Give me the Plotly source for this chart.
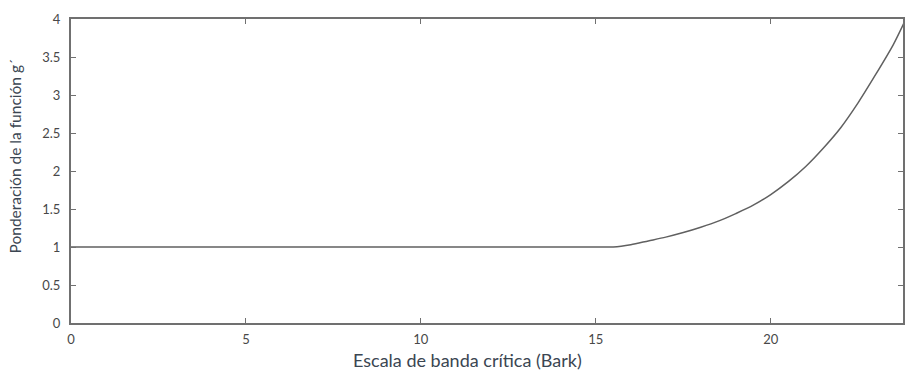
import plotly.graph_objects as go

# Critical-band rate (Bark) and weighting g'
bark = [0, 5, 10, 15, 15.5, 16, 16.5, 17, 17.5, 18, 18.5, 19, 19.5, 20,
        20.5, 21, 21.5, 22, 22.5, 23, 23.5, 23.8]
weight = [1.0, 1.0, 1.0, 1.0, 1.0, 1.03, 1.08, 1.13, 1.19, 1.26, 1.34, 1.44,
          1.55, 1.69, 1.86, 2.06, 2.30, 2.57, 2.90, 3.27, 3.66, 3.94]

x_ticks = [0, 5, 10, 15, 20]
y_ticks = [0, 0.5, 1, 1.5, 2, 2.5, 3, 3.5, 4]
y_tick_text = ["0", "0.5", "1", "1.5", "2", "2.5", "3", "3.5", "4"]

x_title = "Escala de banda crítica (Bark)"
y_title = "Ponderación de la función g´"

axis_color = "#707070"
font_family = "Lato, Open Sans, sans-serif"

fig = go.Figure()
fig.add_trace(go.Scatter(
    x=bark, y=weight, mode="lines",
    line=dict(color="#606060", width=1.5, shape="spline", smoothing=0.8),
    hoverinfo="skip", showlegend=False,
))

common = dict(
    showgrid=False, zeroline=False, showline=True, linecolor=axis_color,
    linewidth=2, mirror="allticks", ticks="inside", ticklen=5,
    tickcolor=axis_color, tickwidth=1,
    tickfont=dict(family=font_family, size=13, color="#484848"),
)

fig.update_layout(
    width=906, height=374,
    margin=dict(l=71, r=1, t=19, b=51),
    paper_bgcolor="white", plot_bgcolor="white",
    xaxis=dict(range=[0, 23.78], tickvals=x_ticks, ticklabelstandoff=3, **common),
    yaxis=dict(range=[0, 4], tickvals=y_ticks, ticktext=y_tick_text,
               ticklabelstandoff=6, **common),
    annotations=[
        dict(text=x_title, xref="paper", yref="paper", x=(468 - 71) / 834,
             y=-(360 - 322.7) / 304, xanchor="center", yanchor="middle",
             showarrow=False,
             font=dict(family=font_family, size=18, color="#3b4652")),
        dict(text=y_title, xref="paper", yref="paper", x=-(71 - 15) / 834,
             y=(322.7 - 156) / 304, xanchor="center", yanchor="middle",
             textangle=-90, showarrow=False,
             font=dict(family=font_family, size=15.5, color="#3b4652")),
    ],
)

fig.write_html("out.html")
